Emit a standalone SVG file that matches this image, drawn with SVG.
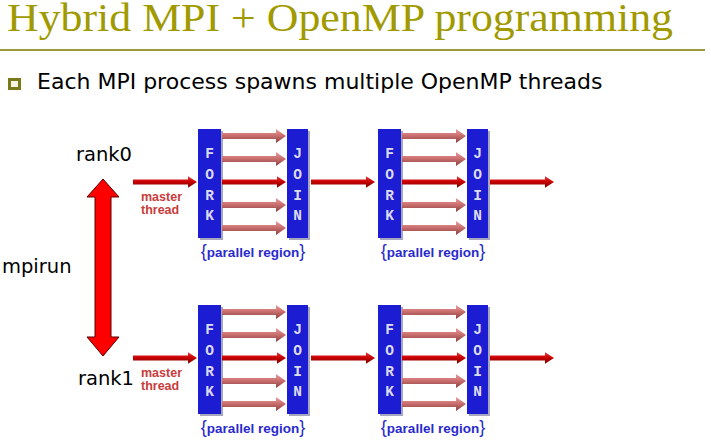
<svg xmlns="http://www.w3.org/2000/svg" xmlns:xlink="http://www.w3.org/1999/xlink" width="711" height="445" viewBox="0 0 711 445">
  <style>
    .title { font-family: "Liberation Serif", "Times New Roman", serif; font-size: 40px; fill: #a09a00; }
    .bullet-text { font-family: "DejaVu Sans", Verdana, sans-serif; font-size: 22px; fill: #000; }
    .label { font-family: "DejaVu Sans", Verdana, sans-serif; font-size: 19.5px; fill: #000; }
    .master { font-family: "Liberation Sans", Arial, sans-serif; font-size: 12.5px; font-weight: bold; fill: #c83c3c; }
    .box { fill: #1c1cd2; }
    .box-shadow { fill: #000044; opacity: 0.35; }
    .letter { font-family: "Liberation Mono", "Courier New", monospace; font-size: 14.5px; font-weight: bold; fill: #dcdcf0; text-anchor: middle; }
    .region { font-family: "Liberation Sans", Arial, sans-serif; font-size: 13.5px; font-weight: bold; fill: #2a2acc; text-anchor: middle; }
    .brace { font-family: "Liberation Sans", Arial, sans-serif; font-size: 18px; font-weight: normal; fill: #2a2acc; }
  </style>
  <defs>
    <linearGradient id="redGrad" x1="0" y1="0" x2="0" y2="1">
      <stop offset="0" stop-color="#e84040"/>
      <stop offset="0.45" stop-color="#cc0000"/>
      <stop offset="1" stop-color="#7a0000"/>
    </linearGradient>
    <linearGradient id="pinkGrad" x1="0" y1="0" x2="0" y2="1">
      <stop offset="0" stop-color="#e8a0a0"/>
      <stop offset="0.45" stop-color="#cc7070"/>
      <stop offset="1" stop-color="#8a4040"/>
    </linearGradient>
    <!-- thick arrow shapes, tip at x=64 -->
    <path id="redArrow" d="M0,-2.6 H55 V-5.8 L64,0 L55,5.8 V2.6 H0 Z" fill="url(#redGrad)"/>
    <path id="pinkArrow" d="M0,-3 H54 V-7 L64,0 L54,7 V3 H0 Z" fill="url(#pinkGrad)"/>
    <!-- one fork/join pair with its threads -->
    <g id="forkJoin">
      <rect class="box-shadow" x="2" y="2" width="23" height="109"/>
      <rect class="box" x="0" y="0" width="23" height="109"/>
      <rect class="box-shadow" x="91" y="2" width="21" height="109"/>
      <rect class="box" x="89" y="0" width="21" height="109"/>
      <text class="letter" x="11.5" y="29">F</text>
      <text class="letter" x="11.5" y="50">O</text>
      <text class="letter" x="11.5" y="70.5">R</text>
      <text class="letter" x="11.5" y="91">K</text>
      <text class="letter" x="99.5" y="29">J</text>
      <text class="letter" x="99.5" y="50">O</text>
      <text class="letter" x="99.5" y="70.5">I</text>
      <text class="letter" x="99.5" y="91">N</text>
      <use xlink:href="#pinkArrow" x="24" y="7"/>
      <use xlink:href="#pinkArrow" x="24" y="30"/>
      <use xlink:href="#redArrow" x="24" y="53"/>
      <use xlink:href="#pinkArrow" x="24" y="76"/>
      <use xlink:href="#pinkArrow" x="24" y="99"/>
      <text x="55" y="128" class="region"><tspan class="brace">{</tspan>parallel region<tspan class="brace">}</tspan></text>
    </g>
  </defs>

  <!-- heading -->
  <g id="title">
    <text class="title" x="7" y="31" textLength="666" lengthAdjust="spacingAndGlyphs">Hybrid MPI + OpenMP programming</text>
    <line x1="0" y1="50" x2="705" y2="50" stroke="#9b9b3c" stroke-width="2"/>
  </g>

  <g id="bullet">
    <rect x="9.5" y="79.5" width="10" height="9" fill="#f4f4e0" stroke="#7a7a1a" stroke-width="3"/>
    <text class="bullet-text" x="37" y="89">Each MPI process spawns multiple OpenMP threads</text>
  </g>

  <g id="rank0"><text class="label" x="76" y="161">rank0</text></g>
  <g id="rank1"><text class="label" x="78" y="385">rank1</text></g>
  <g id="mpirun"><text class="label" x="2" y="273">mpirun</text></g>

  <!-- fork/join blocks, top row for rank0, bottom row for rank1 -->
  <g id="rank0-region1"><use xlink:href="#forkJoin" x="198" y="129"/></g>
  <g id="rank0-region2"><use xlink:href="#forkJoin" x="378" y="129"/></g>
  <g id="rank1-region1"><use xlink:href="#forkJoin" x="198" y="305"/></g>
  <g id="rank1-region2"><use xlink:href="#forkJoin" x="378" y="305"/></g>

  <g id="connectors">
    <!-- mpirun double arrow -->
    <path d="M103,179 L119,197 H111 V337 H119 L103,356 L87,337 H95 V197 H87 Z" fill="#ff0000" stroke="#5a0000" stroke-width="1"/>
    <!-- master thread, rank0 -->
    <use xlink:href="#redArrow" x="133" y="182"/>
    <text class="master" x="141" y="201">master</text>
    <text class="master" x="141" y="214">thread</text>
    <use xlink:href="#redArrow" x="311" y="182"/>
    <use xlink:href="#redArrow" x="490" y="182"/>
    <!-- master thread, rank1 -->
    <use xlink:href="#redArrow" x="133" y="358"/>
    <text class="master" x="141" y="377">master</text>
    <text class="master" x="141" y="390">thread</text>
    <use xlink:href="#redArrow" x="311" y="358"/>
    <use xlink:href="#redArrow" x="490" y="358"/>
  </g>
</svg>
